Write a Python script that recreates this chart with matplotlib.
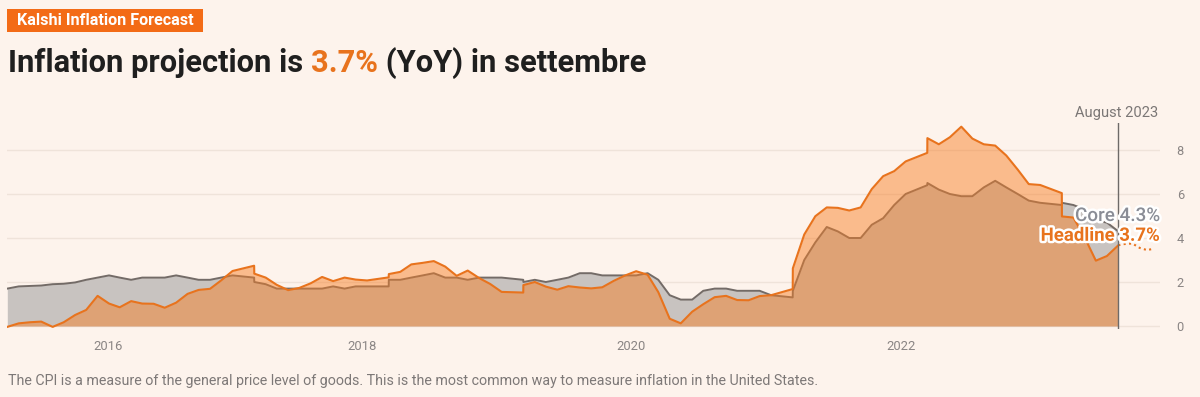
import matplotlib
matplotlib.use("Agg")
import matplotlib.pyplot as plt
import matplotlib.patheffects as pe
from matplotlib.patches import Rectangle
import pandas as pd

# ---------------- data ----------------
start_month = "2015-05-01"
end_month = "2023-08-01"

headline = [
    -0.04, 0.12, 0.17, 0.20, -0.04, 0.17, 0.50, 0.73,
    1.37, 1.02, 0.85, 1.13, 1.02, 1.01, 0.83, 1.06, 1.46, 1.64, 1.69, 2.07,
    2.50, 2.74, 2.38, 2.20, 1.87, 1.63, 1.73, 1.94, 2.23, 2.04, 2.20, 2.11,
    2.07, 2.21, 2.36, 2.46, 2.80, 2.87, 2.95, 2.70, 2.28, 2.52, 2.18, 1.91,
    1.55, 1.52, 1.86, 2.00, 1.79, 1.65, 1.81, 1.75, 1.71, 1.76, 2.05, 2.29,
    2.49, 2.33, 1.54, 0.33, 0.12, 0.65, 0.99, 1.31, 1.37, 1.18, 1.17, 1.36,
    1.40, 1.68, 2.62, 4.16, 4.99, 5.39, 5.37, 5.25, 5.39, 6.22, 6.81, 7.04,
    7.48, 7.87, 8.54, 8.26, 8.58, 9.06, 8.52, 8.26, 8.20, 7.75, 7.11, 6.45,
    6.41, 6.04, 4.98, 4.93, 4.05, 2.97, 3.18, 3.67,
]
core = [
    1.70, 1.80, 1.82, 1.84, 1.90, 1.92, 1.98, 2.10,
    2.20, 2.30, 2.20, 2.10, 2.20, 2.20, 2.20, 2.30, 2.20, 2.10, 2.10, 2.20,
    2.30, 2.20, 2.00, 1.90, 1.70, 1.70, 1.70, 1.70, 1.70, 1.80, 1.70, 1.80,
    1.80, 1.80, 2.10, 2.10, 2.20, 2.30, 2.40, 2.20, 2.20, 2.10, 2.20, 2.20,
    2.20, 2.10, 2.00, 2.10, 2.00, 2.10, 2.20, 2.40, 2.40, 2.30, 2.30, 2.30,
    2.30, 2.40, 2.10, 1.40, 1.20, 1.20, 1.60, 1.70, 1.70, 1.60, 1.60, 1.60,
    1.40, 1.30, 1.60, 3.00, 3.80, 4.50, 4.30, 4.00, 4.00, 4.60, 4.90, 5.50,
    6.00, 6.40, 6.50, 6.20, 6.00, 5.90, 5.90, 6.30, 6.60, 6.30, 6.00, 5.70,
    5.60, 5.50, 5.60, 5.50, 5.30, 4.80, 4.70, 4.30,
]
# in the source chart February readings of these years sit at the start of March
feb_at_march_years = [2017, 2018, 2019, 2021, 2022, 2023]

forecast_dates = ["2023-08-01", "2023-08-14", "2023-09-08", "2023-09-28", "2023-10-18", "2023-11-01"]
forecast_values = [3.67, 3.72, 3.75, 3.55, 3.45, 3.50]

marker_date = "2023-08-01"
marker_label = "August 2023"

ytick_values = [0, 2, 4, 6, 8]
xtick_dates = ["2016-01-29", "2017-12-19", "2019-12-18", "2021-12-19"]
xtick_labels = ["2016", "2018", "2020", "2022"]

core_label = "Core 4.3%"
headline_label = "Headline 3.7%"

badge_text = "Kalshi Inflation Forecast"
title_parts = ["Inflation projection is ", "3.7%", " (YoY) in settembre"]
footnote = ("The CPI is a measure of the general price level of goods. "
            "This is the most common way to measure inflation in the United States.")

# ---------------- styling ----------------
BG = "#fdf3ec"
GRID = "#efe3da"
ORANGE_LINE = "#e8731d"
ORANGE_FILL = "#f77e24"
CORE_FILL = "#c8c3c0"
CORE_LINE = "#736b67"
DARK = "#1f1f1f"
TICK = "#8a8584"
BADGE = "#f36b16"

W, H = 1200, 397
FONT = "Roboto"

dates = pd.date_range(start_month, end_month, freq="MS")
dates = [d + pd.Timedelta(days=28) - pd.Timedelta(hours=8)
         if (d.month == 2 and d.year in feb_at_march_years) else d
         for d in dates]
df = pd.DataFrame({"date": dates, "headline": headline, "core": core})

fig = plt.figure(figsize=(W / 100, H / 100), dpi=100)
fig.patch.set_facecolor(BG)

# axes placement in pixels
ax_left, ax_right = 7.3, 1160.0
y0_px, px_per_unit = 326.0, 22.0
ymin, ymax = -0.15, 9.25
ax_bottom_px = y0_px - ymin * px_per_unit
ax_top_px = y0_px - ymax * px_per_unit
ax = fig.add_axes([ax_left / W, 1 - ax_bottom_px / H,
                   (ax_right - ax_left) / W, (ax_bottom_px - ax_top_px) / H])
ax.set_facecolor(BG)

x0 = pd.Timestamp(start_month)
px_per_day = 11.22 * 12 / 365.25
x1 = x0 + pd.Timedelta(days=(ax_right - ax_left) / px_per_day)
ax.set_xlim(x0, x1)
ax.set_ylim(ymin, ymax)

for v in ytick_values:
    ax.axhline(v, color=GRID, lw=1.0, zorder=0)

ax.fill_between(df["date"], 0, df["core"], color=CORE_FILL, lw=0, zorder=1)
ax.plot(df["date"], df["core"], color=CORE_LINE, lw=1.4, zorder=2)
ax.fill_between(df["date"], 0, df["headline"], color=ORANGE_FILL, alpha=0.48, lw=0, zorder=3)
ax.plot(df["date"], df["headline"], color=ORANGE_LINE, lw=1.5, zorder=4)
ax.plot(pd.to_datetime(forecast_dates), forecast_values, color=ORANGE_LINE, lw=1.5,
        linestyle=(0, (1, 1.6)), zorder=4)

md = pd.Timestamp(marker_date)
ax.axvline(md, color="#6e6a68", lw=1.0, zorder=5)
ax.annotate(marker_label, xy=(md, 1.0), xycoords=("data", "axes fraction"),
            xytext=(-2, 9), textcoords="offset pixels", ha="center", va="center",
            fontsize=10.6, color="#7b7776", family=FONT, annotation_clip=False)

halo = [pe.withStroke(linewidth=3.5, foreground="white")]
ax.text(1.0, 5.0, core_label, transform=ax.get_yaxis_transform(), ha="right", va="center",
        fontsize=13.6, color="#8a8d96", family=FONT, fontweight="medium",
        path_effects=halo, zorder=7)
ax.text(1.0, 4.1, headline_label, transform=ax.get_yaxis_transform(), ha="right", va="center",
        fontsize=13.4, color=ORANGE_LINE, family=FONT, fontweight="bold",
        path_effects=halo, zorder=7)

for s in ax.spines.values():
    s.set_visible(False)
ax.yaxis.tick_right()
ax.set_yticks(ytick_values)
ax.set_yticklabels([str(v) for v in ytick_values], family=FONT, fontsize=9.2, color=TICK)
ax.tick_params(axis="y", length=0, pad=12)
ax.set_xticks(pd.to_datetime(xtick_dates))
ax.set_xticklabels(xtick_labels, family=FONT, fontsize=9.4, color=TICK)
ax.tick_params(axis="x", length=0, pad=8)

# header badge
fig.patches.append(Rectangle((7 / W, 1 - 32 / H), 196 / W, 23 / H, transform=fig.transFigure,
                             facecolor=BADGE, edgecolor="none"))
fig.text(105 / W, 1 - 20.5 / H, badge_text, ha="center", va="center", color="white",
         fontsize=11.6, fontweight="bold", family=FONT)

# title in pieces
renderer = fig.canvas.get_renderer()
xpos = 8
colors = [DARK, ORANGE_LINE, DARK]
for part, c in zip(title_parts, colors):
    t = fig.text(xpos / W, 1 - 63 / H, part, ha="left", va="center", color=c,
                 fontsize=22.2, fontweight="bold", family=FONT)
    bb = t.get_window_extent(renderer)
    xpos = bb.x1

fig.text(8 / W, 1 - 381 / H, footnote, ha="left", va="center", color="#7d7877",
         fontsize=10.25, family=FONT)

fig.savefig("out.png", dpi=100, facecolor=BG)
